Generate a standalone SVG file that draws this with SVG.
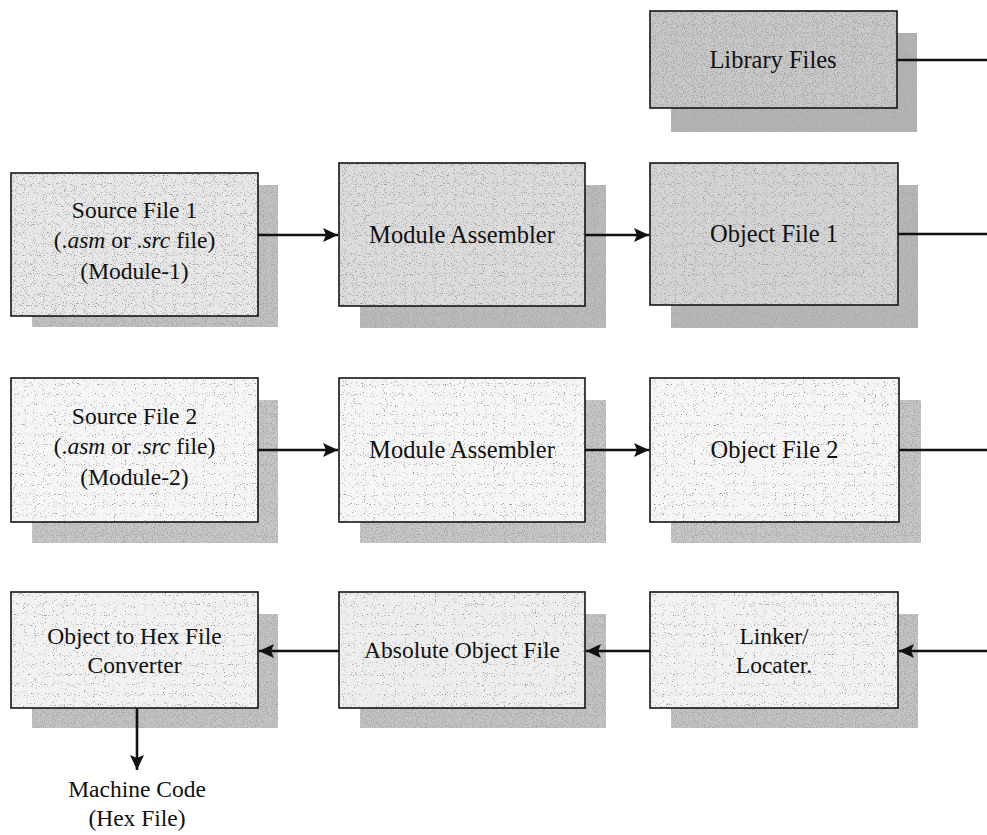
<svg xmlns="http://www.w3.org/2000/svg" width="987" height="835" viewBox="0 0 987 835">
<defs>
<style>
.box{fill:none;stroke:#151515;stroke-width:1.6}
.t{font-family:"Liberation Serif","Times New Roman",serif;font-size:23.5px;fill:#111;text-anchor:middle}
.big{font-size:24.5px}
.conn{stroke:#111;stroke-width:2.6;fill:none}
</style>
<filter id="grain" x="0" y="0" width="1" height="1">
<feTurbulence type="fractalNoise" baseFrequency="0.9" numOctaves="1" seed="7" result="n"/>
<feColorMatrix in="n" type="matrix" values="0 0 0 0 0.35  0 0 0 0 0.35  0 0 0 0 0.35  -7 0 0 0 3.0" result="m"/>
<feComposite in="m" in2="SourceGraphic" operator="in" result="dots"/>
<feMerge><feMergeNode in="SourceGraphic"/><feMergeNode in="dots"/></feMerge>
</filter>
<filter id="grainL" x="0" y="0" width="1" height="1">
<feTurbulence type="fractalNoise" baseFrequency="0.9" numOctaves="1" seed="11" result="n"/>
<feColorMatrix in="n" type="matrix" values="0 0 0 0 0.3  0 0 0 0 0.3  0 0 0 0 0.3  -8 0 0 0 3.0" result="m"/>
<feComposite in="m" in2="SourceGraphic" operator="in" result="dots"/>
<feMerge><feMergeNode in="SourceGraphic"/><feMergeNode in="dots"/></feMerge>
</filter>
<filter id="grainH" x="0" y="0" width="1" height="1">
<feTurbulence type="fractalNoise" baseFrequency="0.9" numOctaves="1" seed="3" result="n"/>
<feColorMatrix in="n" type="matrix" values="0 0 0 0 0.4  0 0 0 0 0.4  0 0 0 0 0.4  -7 0 0 0 3.5" result="m"/>
<feComposite in="m" in2="SourceGraphic" operator="in" result="dots"/>
<feMerge><feMergeNode in="SourceGraphic"/><feMergeNode in="dots"/></feMerge>
</filter>
<marker id="ah" markerUnits="userSpaceOnUse" markerWidth="16" markerHeight="14" refX="15" refY="7" orient="auto">
<path d="M0,0 L15,7 L0,14 L3,7 Z" fill="#111"/>
</marker>
</defs>
<rect width="987" height="835" fill="#ffffff"/>

<g id="library-files">
<rect x="671" y="33" width="246" height="99" fill="#b4b4b4" filter="url(#grainH)"/>
<rect x="650" y="11" width="247" height="97" fill="#cacaca" filter="url(#grainH)"/>
<rect class="box" x="650" y="11" width="247" height="97"/>
<text class="t big" x="773" y="68">Library Files</text>
</g>

<g id="source-file-1">
<rect x="32" y="185" width="246" height="142" fill="#c2c2c2" filter="url(#grainH)"/>
<rect x="11" y="173" width="247" height="143" fill="#e8e8e8" filter="url(#grain)"/>
<rect class="box" x="11" y="173" width="247" height="143"/>
<text class="t" x="134.5" y="218">Source File 1</text>
<text class="t" x="134.5" y="248">(.<tspan font-style="italic">asm</tspan> or .<tspan font-style="italic">src</tspan> file)</text>
<text class="t" x="134.5" y="279">(Module-1)</text>
</g>

<g id="module-assembler-1">
<rect x="360" y="185" width="246" height="143" fill="#bcbcbc" filter="url(#grainH)"/>
<rect x="339" y="163" width="246" height="143" fill="#dcdcdc" filter="url(#grain)"/>
<rect class="box" x="339" y="163" width="246" height="143"/>
<text class="t big" x="462" y="243">Module Assembler</text>
</g>

<g id="object-file-1">
<rect x="671" y="185" width="247" height="143" fill="#b8b8b8" filter="url(#grainH)"/>
<rect x="650" y="163" width="248" height="142" fill="#d4d4d4" filter="url(#grain)"/>
<rect class="box" x="650" y="163" width="248" height="142"/>
<text class="t big" x="774" y="242">Object File 1</text>
</g>

<g id="source-file-2">
<rect x="32" y="400" width="246" height="143" fill="#c8c8c8" filter="url(#grainH)"/>
<rect x="11" y="378" width="247" height="144" fill="#f6f6f6" filter="url(#grainL)"/>
<rect class="box" x="11" y="378" width="247" height="144"/>
<text class="t" x="134.5" y="424">Source File 2</text>
<text class="t" x="134.5" y="454">(.<tspan font-style="italic">asm</tspan> or .<tspan font-style="italic">src</tspan> file)</text>
<text class="t" x="134.5" y="485">(Module-2)</text>
</g>

<g id="module-assembler-2">
<rect x="360" y="400" width="246" height="143" fill="#c8c8c8" filter="url(#grainH)"/>
<rect x="339" y="378" width="246" height="144" fill="#f6f6f6" filter="url(#grainL)"/>
<rect class="box" x="339" y="378" width="246" height="144"/>
<text class="t big" x="462" y="458">Module Assembler</text>
</g>

<g id="object-file-2">
<rect x="671" y="400" width="250" height="143" fill="#c8c8c8" filter="url(#grainH)"/>
<rect x="650" y="378" width="249" height="144" fill="#f6f6f6" filter="url(#grainL)"/>
<rect class="box" x="650" y="378" width="249" height="144"/>
<text class="t big" x="774.5" y="458">Object File 2</text>
</g>

<g id="hex-converter">
<rect x="32" y="614" width="246" height="114" fill="#c4c4c4" filter="url(#grainH)"/>
<rect x="11" y="592" width="247" height="116" fill="#f2f2f2" filter="url(#grainL)"/>
<rect class="box" x="11" y="592" width="247" height="116"/>
<text class="t" x="134.5" y="644">Object to Hex File</text>
<text class="t" x="134.5" y="673">Converter</text>
</g>

<g id="absolute-object-file">
<rect x="360" y="614" width="246" height="114" fill="#c4c4c4" filter="url(#grainH)"/>
<rect x="339" y="592" width="246" height="116" fill="#eeeeee" filter="url(#grainL)"/>
<rect class="box" x="339" y="592" width="246" height="116"/>
<text class="t" x="462" y="658">Absolute Object File</text>
</g>

<g id="linker-locater">
<rect x="671" y="614" width="247" height="114" fill="#c4c4c4" filter="url(#grainH)"/>
<rect x="650" y="592" width="248" height="116" fill="#f2f2f2" filter="url(#grainL)"/>
<rect class="box" x="650" y="592" width="248" height="116"/>
<text class="t" x="774" y="644">Linker/</text>
<text class="t" x="774" y="673">Locater.</text>
</g>

<g id="machine-code">
<text class="t" x="137" y="797">Machine Code</text>
<text class="t" x="137" y="826">(Hex File)</text>
</g>

<g id="connectors">
<line class="conn" x1="897" y1="60" x2="987" y2="60"/>
<line class="conn" x1="258" y1="235" x2="338" y2="235" marker-end="url(#ah)"/>
<line class="conn" x1="585" y1="235" x2="649" y2="235" marker-end="url(#ah)"/>
<line class="conn" x1="898" y1="234" x2="987" y2="234"/>
<line class="conn" x1="258" y1="450" x2="338" y2="450" marker-end="url(#ah)"/>
<line class="conn" x1="585" y1="450" x2="649" y2="450" marker-end="url(#ah)"/>
<line class="conn" x1="899" y1="450" x2="987" y2="450"/>
<line class="conn" x1="987" y1="651" x2="899" y2="651" marker-end="url(#ah)"/>
<line class="conn" x1="650" y1="651" x2="586" y2="651" marker-end="url(#ah)"/>
<line class="conn" x1="339" y1="651" x2="259" y2="651" marker-end="url(#ah)"/>
<line class="conn" x1="137" y1="708" x2="137" y2="770" marker-end="url(#ah)"/>
</g>
</svg>
